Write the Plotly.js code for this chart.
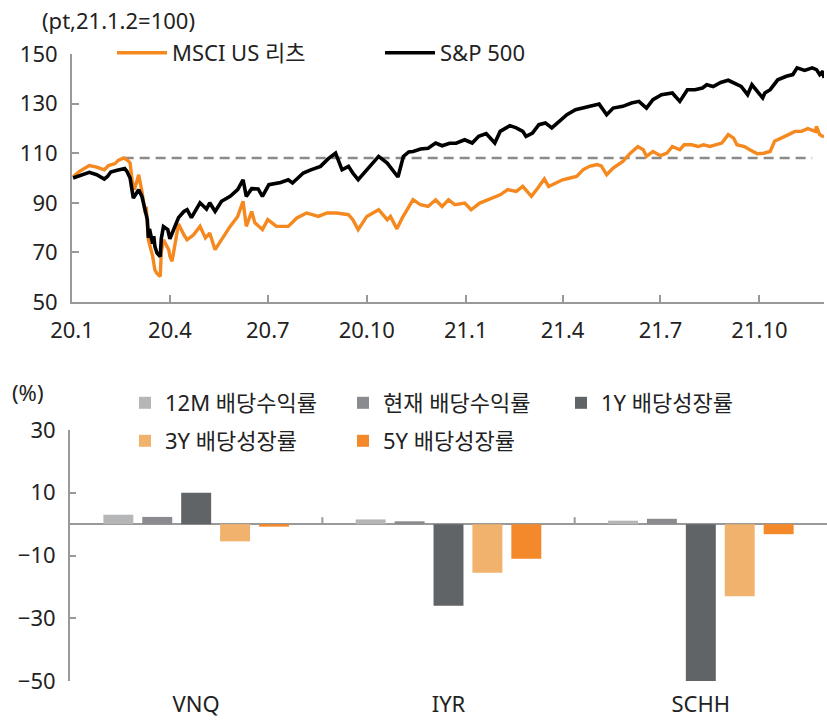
<!DOCTYPE html>
<html>
<head>
<meta charset="utf-8">
<script src="https://cdn.plot.ly/plotly-3.0.1.min.js"></script>
<style>html,body{margin:0;padding:0;background:#fff;}#chart{width:827px;height:720px;}</style>
</head>
<body>
<div id="chart"></div>
<script>
// ---------- top chart data (indexed) ----------
const reitName = 'MSCI US 리츠';
const spxName = 'S&P 500';

const spxDates = ['2020-01-02','2020-01-08','2020-01-17','2020-01-24','2020-01-31','2020-02-03','2020-02-06','2020-02-12','2020-02-19','2020-02-21','2020-02-24','2020-02-27','2020-03-03','2020-03-06','2020-03-09','2020-03-11','2020-03-12','2020-03-13','2020-03-16','2020-03-17','2020-03-18','2020-03-20','2020-03-23','2020-03-24','2020-03-26','2020-03-30','2020-04-01','2020-04-06','2020-04-09','2020-04-14','2020-04-17','2020-04-21','2020-04-29','2020-05-05','2020-05-08','2020-05-13','2020-05-19','2020-05-27','2020-06-03','2020-06-08','2020-06-11','2020-06-16','2020-06-22','2020-06-26','2020-07-02','2020-07-13','2020-07-20','2020-07-24','2020-08-03','2020-08-10','2020-08-19','2020-08-26','2020-09-02','2020-09-08','2020-09-14','2020-09-18','2020-09-23','2020-10-01','2020-10-12','2020-10-20','2020-10-30','2020-11-04','2020-11-09','2020-11-13','2020-11-20','2020-11-27','2020-12-04','2020-12-10','2020-12-17','2020-12-23','2020-12-31','2021-01-07','2021-01-13','2021-01-20','2021-01-28','2021-02-02','2021-02-11','2021-02-17','2021-02-23','2021-02-26','2021-03-04','2021-03-10','2021-03-16','2021-03-22','2021-03-29','2021-04-05','2021-04-13','2021-04-19','2021-04-26','2021-05-05','2021-05-12','2021-05-18','2021-05-27','2021-06-04','2021-06-11','2021-06-18','2021-06-24','2021-07-02','2021-07-12','2021-07-19','2021-07-26','2021-08-02','2021-08-09','2021-08-13','2021-08-19','2021-08-26','2021-09-02','2021-09-08','2021-09-14','2021-09-20','2021-09-24','2021-10-04','2021-10-06','2021-10-11','2021-10-18','2021-10-26','2021-11-01','2021-11-05','2021-11-12','2021-11-19','2021-11-23','2021-11-26','2021-11-29','2021-11-30'];
const spxValues = [100,101,102.3,101.3,99.6,100.6,102.4,103.1,103.8,102.7,100,91.9,95.3,92.6,85.9,83.2,75.8,79.5,73.5,76.5,72.5,69.7,68.3,75.5,80.4,79.2,75.5,80.5,84,86.5,87.2,84,90,87.5,90,86.5,90.6,92.6,95.3,99.3,92.6,95.7,95.6,92.6,97.3,98.2,99.3,98,102,103.3,104.7,107.7,110,103.3,104.7,102,99.3,103.3,108.7,106,100.4,108.7,110.5,110.7,111.7,112,114.1,113,114,114,115.4,114.1,116.8,117.9,114.1,118.8,121.1,120.2,118.8,116.8,118.1,121.5,122.2,120.2,122.8,125.5,127.5,128.2,128.9,129.8,125.5,128.2,128.9,130.2,130.9,128.2,131.6,133.6,134.3,130.9,135.6,135.6,136.3,137.6,136.9,138.5,139.4,138.3,136.9,133.6,137.6,132.3,134.3,135.6,139.6,141,141.7,144.4,143.4,144.4,143.7,141.7,143,140.3];

const reitDates = ['2020-01-02','2020-01-08','2020-01-17','2020-01-24','2020-01-31','2020-02-04','2020-02-10','2020-02-13','2020-02-18','2020-02-21','2020-02-24','2020-02-26','2020-02-28','2020-03-03','2020-03-06','2020-03-09','2020-03-10','2020-03-12','2020-03-16','2020-03-18','2020-03-20','2020-03-23','2020-03-24','2020-03-26','2020-03-31','2020-04-01','2020-04-03','2020-04-06','2020-04-09','2020-04-14','2020-04-17','2020-04-23','2020-04-29','2020-05-04','2020-05-08','2020-05-13','2020-05-19','2020-05-27','2020-06-03','2020-06-08','2020-06-11','2020-06-16','2020-06-19','2020-06-26','2020-07-01','2020-07-09','2020-07-20','2020-07-28','2020-08-06','2020-08-17','2020-08-25','2020-09-03','2020-09-14','2020-09-18','2020-09-23','2020-10-01','2020-10-12','2020-10-20','2020-10-23','2020-10-29','2020-11-03','2020-11-09','2020-11-13','2020-11-20','2020-11-27','2020-12-04','2020-12-10','2020-12-16','2020-12-22','2020-12-31','2021-01-06','2021-01-14','2021-01-22','2021-02-02','2021-02-09','2021-02-17','2021-02-23','2021-03-03','2021-03-09','2021-03-15','2021-03-19','2021-03-26','2021-04-01','2021-04-08','2021-04-14','2021-04-20','2021-04-26','2021-05-03','2021-05-07','2021-05-12','2021-05-18','2021-05-27','2021-06-03','2021-06-10','2021-06-15','2021-06-18','2021-06-24','2021-07-01','2021-07-07','2021-07-12','2021-07-19','2021-07-23','2021-07-30','2021-08-05','2021-08-10','2021-08-16','2021-08-23','2021-08-27','2021-09-02','2021-09-07','2021-09-10','2021-09-17','2021-09-22','2021-09-29','2021-10-05','2021-10-11','2021-10-15','2021-10-22','2021-10-28','2021-11-03','2021-11-09','2021-11-15','2021-11-22','2021-11-23','2021-11-26','2021-11-30'];
const reitValues = [100.5,102.7,105,104.4,103.3,105,105.8,107.1,108.1,107.4,106,98.6,95.3,101.3,94.6,85.9,88.5,75.1,68.4,63,61.5,60.3,70,75.1,71,68.4,66.4,75.1,81.5,77.1,75.1,77.1,80.5,75.8,77.8,71.1,75.1,80.5,84.5,90.6,80.5,86.5,81.9,79.2,83.2,80.5,80.5,83.9,85.9,84.5,85.9,85.9,85.2,83.2,79.2,84.5,87.2,83.2,84.5,79.5,83.9,88.5,91.3,89.2,88.5,91.2,88.5,91.2,89.2,89.9,87.2,89.9,91.2,93.2,95.3,94.6,96.6,92.6,96,99.6,96.6,98,99.3,100,100.6,103.3,104.7,105.4,104.9,101.3,104,106.7,110,112.7,111.4,108.7,110.7,109,110,112.7,111.4,113.4,113.4,112.7,113.4,112.7,113.4,114.1,117.5,116.1,113.4,112.7,111.4,109.8,110,110.7,114.8,116.1,117.5,118.8,118.8,119.9,118.8,120.8,117.5,116.5];

// pre-crisis reference level (dashed)
const baseDates = ['2020-02-18','2021-11-19'];
const baseValues = [108.1,108.1];

const xTickVals = ['2020-01-01','2020-04-01','2020-07-01','2020-10-01','2021-01-01','2021-04-01','2021-07-01','2021-10-01'];
const xTickText = ['20.1','20.4','20.7','20.10','21.1','21.4','21.7','21.10'];
const yTickVals = [50,70,90,110,130,150];

// ---------- bottom chart data ----------
const barCategories = ['VNQ','IYR','SCHH'];
const barNames = ['12M 배당수익률','현재 배당수익률','1Y 배당성장률','3Y 배당성장률','5Y 배당성장률'];
const bar12M = [3.0, 1.5, 1.1];
const barNow = [2.3, 0.9, 1.7];
const bar1Y = [10.0, -26.0, -50.2];
const bar3Y = [-5.5, -15.5, -23.0];
const bar5Y = [-0.8, -11.0, -3.2];
const barTickVals = [-50,-30,-10,10,30];

// ---------- styling ----------
const FONT = 'Noto Sans, "Noto Sans CJK KR", Arial, sans-serif';
const AX = '#999999';
const barColors = ['#b5b6b7','#898b8e','#616467','#f1b26d','#f3892a'];
const barSeries = [bar12M, barNow, bar1Y, bar3Y, bar5Y];
const W = 827, H = 720;
const px = v => v / W, py = v => 1 - v / H;

const traces = [
  {x: baseDates, y: baseValues, type: 'scatter', mode: 'lines', xaxis: 'x', yaxis: 'y',
   line: {color: '#8a8a8a', width: 2.5, dash: '10px,6px'}, showlegend: false, hoverinfo: 'skip'},
  {x: reitDates, y: reitValues, name: reitName, type: 'scatter', mode: 'lines', xaxis: 'x', yaxis: 'y',
   line: {color: '#f5891f', width: 3.4}, legend: 'legend'},
  {x: spxDates, y: spxValues, name: spxName, type: 'scatter', mode: 'lines', xaxis: 'x', yaxis: 'y',
   line: {color: '#000000', width: 3.6}, legend: 'legend'}
];
barSeries.forEach((vals, i) => {
  traces.push({x: barCategories, y: vals, name: barNames[i], type: 'bar', xaxis: 'x2', yaxis: 'y2',
    marker: {color: barColors[i], line: {width: 0}}, legend: i < 3 ? 'legend2' : 'legend3'});
});

const axisCommon = {showline: true, linecolor: AX, linewidth: 2, ticks: 'inside', tickcolor: AX,
  tickwidth: 2, showgrid: false, zeroline: false, tickfont: {family: FONT, size: 22, color: '#222'}};

const legendCommon = {orientation: 'h', xanchor: 'left', yanchor: 'middle', bgcolor: 'rgba(0,0,0,0)',
  borderwidth: 0, font: {family: FONT, size: 22, color: '#222'}, entrywidthmode: 'pixels'};

const layout = {
  width: W, height: H, margin: {l: 0, r: 0, t: 0, b: 0}, paper_bgcolor: '#fff', plot_bgcolor: 'rgba(0,0,0,0)',
  font: {family: FONT, color: '#222'},
  barmode: 'group', bargap: 0.229, bargroupgap: 0.23,
  xaxis: Object.assign({}, axisCommon, {domain: [px(72), px(824)], type: 'date', range: ['2020-01-01','2021-11-30'],
    tickmode: 'array', tickvals: xTickVals, ticktext: xTickText, ticklen: 7, anchor: 'y', ticklabelstandoff: 8}),
  yaxis: Object.assign({}, axisCommon, {domain: [py(302), py(54)], range: [50,150], tickmode: 'array',
    tickvals: yTickVals, ticklen: 7, anchor: 'x', ticklabelstandoff: 8}),
  xaxis2: {domain: [px(70), 1], type: 'category', anchor: 'y2', showline: false, ticks: '', showgrid: false,
    zeroline: false, tickfont: {family: FONT, size: 22, color: '#222'}, ticklabelstandoff: 8},
  yaxis2: Object.assign({}, axisCommon, {domain: [py(681), py(430)], range: [-50,30], tickmode: 'array',
    tickvals: barTickVals, ticklen: 6, anchor: 'x2', zeroline: true, zerolinecolor: AX, zerolinewidth: 2,
    ticklabelstandoff: 8}),
  legend: Object.assign({}, legendCommon, {x: px(112), y: py(53), itemwidth: 50, entrywidth: 203}),
  legend2: Object.assign({}, legendCommon, {x: px(125), y: py(403), itemwidth: 30, entrywidth: 173}),
  legend3: Object.assign({}, legendCommon, {x: px(125), y: py(441), itemwidth: 30, entrywidth: 173}),
  shapes: [0.5, 1.5].map(c => ({type: 'line', xref: 'x2', yref: 'y2', x0: c, x1: c, y0: 0, y1: 2.2,
    line: {color: AX, width: 2}})),
  annotations: [
    {text: '(pt,21.1.2=100)', xref: 'paper', yref: 'paper', x: px(40), y: py(20), xanchor: 'left', yanchor: 'middle',
     showarrow: false, font: {family: FONT, size: 22, color: '#222'}},
    {text: '(%)', xref: 'paper', yref: 'paper', x: px(10), y: py(392), xanchor: 'left', yanchor: 'middle',
     showarrow: false, font: {family: FONT, size: 22, color: '#222'}}
  ]
};

Plotly.newPlot('chart', traces, layout, {displayModeBar: false, staticPlot: true});
</script>
</body>
</html>
